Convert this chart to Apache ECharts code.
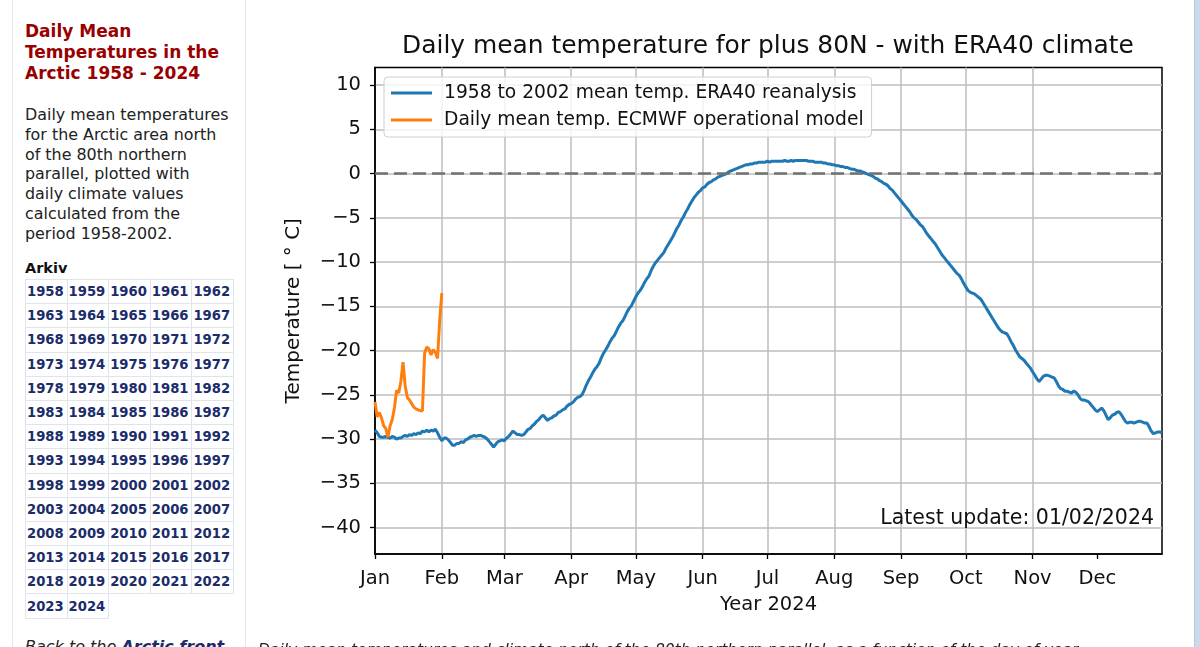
<!DOCTYPE html>
<html>
<head>
<meta charset="utf-8">
<script src="https://cdn.jsdelivr.net/npm/echarts@6/dist/echarts.min.js"></script>
<style>
html,body{margin:0;padding:0;width:1200px;height:647px;overflow:hidden;background:#fff;font-family:"DejaVu Sans",Verdana,sans-serif;}
#side{position:absolute;left:12px;top:0;width:234px;height:647px;border-left:1px solid #e6e6e6;border-right:1px solid #e6e6e6;box-sizing:border-box;z-index:2;overflow:hidden;}
#side h1{position:absolute;left:12px;top:21px;margin:0;font-size:17px;line-height:21px;font-weight:bold;color:#990000;white-space:nowrap;}
#side p.desc{position:absolute;left:12px;top:105px;margin:0;font-size:15.9px;line-height:19.8px;color:#222;white-space:nowrap;}
#side .ark{position:absolute;left:12px;top:260px;font-size:14.5px;font-weight:bold;color:#111;}
#side table{position:absolute;left:12px;top:279px;border-collapse:collapse;}
#side td{border:1px solid #dfe4ee;width:41.6px;height:24.2px;padding:0 0 0 1px;font-size:13.2px;font-weight:bold;color:#1b2c6b;box-sizing:border-box;}
#side .back{position:absolute;left:12px;top:637px;font-size:16px;font-style:italic;color:#222;white-space:nowrap;}
#side .back b{color:#1b2c6b;}
#bottomtext{position:absolute;left:258px;top:641px;font-size:15.5px;font-style:italic;color:#222;white-space:nowrap;z-index:2;}
#rbar{position:absolute;left:1194px;top:0;width:6px;height:647px;background:#cbd9ec;border-left:1px solid #b5c8e2;box-sizing:border-box;z-index:2;}
#chart{position:absolute;left:246px;top:0;width:948px;height:647px;z-index:1;}
</style>
</head>
<body>
<div id="side">
  <h1>Daily Mean<br>Temperatures in the<br>Arctic 1958 - 2024</h1>
  <p class="desc">Daily mean temperatures<br>for the Arctic area north<br>of the 80th northern<br>parallel, plotted with<br>daily climate values<br>calculated from the<br>period 1958-2002.</p>
  <div class="ark">Arkiv</div>
  <table id="years"></table>
  <div class="back">Back to the <b>Arctic front</b></div>
</div>
<div id="bottomtext">Daily mean temperatures and climate north of the 80th northern parallel, as a function of the day of year.</div>
<div id="rbar"></div>
<div id="chart"></div>
<script>
// ---------- data ----------
const archiveYears = [1958,1959,1960,1961,1962,1963,1964,1965,1966,1967,1968,1969,1970,1971,1972,1973,1974,1975,1976,1977,1978,1979,1980,1981,1982,1983,1984,1985,1986,1987,1988,1989,1990,1991,1992,1993,1994,1995,1996,1997,1998,1999,2000,2001,2002,2003,2004,2005,2006,2007,2008,2009,2010,2011,2012,2013,2014,2015,2016,2017,2018,2019,2020,2021,2022,2023,2024];
const monthNames = ['Jan','Feb','Mar','Apr','May','Jun','Jul','Aug','Sep','Oct','Nov','Dec'];
const monthLengths = [31,29,31,30,31,30,31,31,30,31,30,31];
const yTickLabels = [-40,-35,-30,-25,-20,-15,-10,-5,0,5,10];

// ERA40 1958-2002 climatology (day 0 = Jan 1, 366 days)
const climate = [
-29.0,-29.3,-29.7,-29.8,-29.8,-29.7,-29.8,-29.9,-29.7,-29.8,
-30.0,-29.9,-29.9,-29.7,-29.6,-29.7,-29.5,-29.6,-29.4,-29.5,
-29.3,-29.4,-29.1,-29.2,-29.0,-29.2,-29.0,-29.1,-28.9,-29.3,
-29.8,-30.2,-29.9,-29.9,-30.1,-30.4,-30.7,-30.7,-30.5,-30.5,
-30.3,-30.4,-30.1,-30.0,-29.8,-29.7,-29.6,-29.7,-29.6,-29.6,
-29.7,-29.8,-30.0,-30.3,-30.6,-30.9,-30.6,-30.3,-30.2,-30.1,
-30.2,-29.9,-29.7,-29.4,-29.1,-29.3,-29.5,-29.5,-29.6,-29.5,
-29.2,-28.9,-28.8,-28.5,-28.3,-28.0,-27.8,-27.5,-27.3,-27.6,
-27.9,-27.7,-27.6,-27.4,-27.3,-27.0,-26.9,-26.7,-26.6,-26.3,
-26.1,-26.0,-25.8,-25.5,-25.3,-25.2,-25.0,-24.5,-23.9,-23.4,
-23.0,-22.5,-22.1,-21.8,-21.4,-20.8,-20.3,-19.9,-19.5,-19.0,
-18.6,-18.3,-17.8,-17.3,-16.9,-16.6,-16.1,-15.6,-15.2,-14.9,
-14.4,-13.9,-13.5,-13.2,-12.8,-12.3,-11.9,-11.6,-11.0,-10.5,
-10.1,-9.8,-9.5,-9.2,-8.9,-8.4,-8.0,-7.6,-7.2,-6.7,
-6.2,-5.8,-5.3,-4.9,-4.4,-4.0,-3.5,-3.1,-2.7,-2.4,
-2.1,-1.9,-1.6,-1.5,-1.2,-1.0,-0.9,-0.7,-0.6,-0.4,
-0.3,-0.2,-0.1,0.0,0.2,0.3,0.4,0.5,0.6,0.7,
0.8,0.9,1.0,1.0,1.1,1.1,1.2,1.2,1.3,1.3,
1.3,1.3,1.4,1.3,1.4,1.4,1.4,1.4,1.4,1.4,
1.5,1.4,1.4,1.5,1.4,1.5,1.5,1.5,1.5,1.5,
1.5,1.4,1.4,1.4,1.3,1.3,1.3,1.3,1.2,1.2,
1.1,1.1,1.0,1.0,0.9,0.9,0.8,0.8,0.7,0.7,
0.6,0.5,0.5,0.4,0.3,0.3,0.2,0.1,0.0,-0.1,
-0.2,-0.3,-0.5,-0.6,-0.8,-0.9,-1.1,-1.2,-1.4,-1.7,
-1.9,-2.2,-2.5,-2.8,-3.1,-3.4,-3.7,-4.0,-4.3,-4.7,
-5.0,-5.2,-5.5,-5.8,-6.0,-6.4,-6.8,-7.1,-7.4,-7.7,
-8.0,-8.4,-8.8,-9.2,-9.5,-9.8,-10.1,-10.4,-10.7,-11.0,
-11.3,-11.5,-11.9,-12.4,-12.8,-13.2,-13.4,-13.5,-13.6,-13.8,
-14.0,-14.2,-14.6,-15.0,-15.4,-15.8,-16.2,-16.6,-17.0,-17.4,
-17.7,-17.9,-18.0,-18.1,-18.5,-19.0,-19.4,-19.9,-20.3,-20.7,
-20.9,-21.1,-21.4,-21.7,-22.0,-22.4,-22.8,-23.2,-23.5,-23.2,
-22.9,-22.8,-22.8,-22.9,-23.0,-23.1,-23.5,-24.0,-24.3,-24.4,
-24.6,-24.6,-24.7,-24.8,-24.6,-24.7,-25.0,-25.4,-25.6,-25.6,
-25.7,-25.8,-26.1,-26.4,-26.7,-26.9,-26.7,-26.5,-26.8,-27.3,
-27.8,-27.6,-27.3,-27.2,-27.0,-26.9,-27.2,-27.6,-28.0,-28.2,
-28.1,-28.1,-28.2,-28.1,-28.0,-28.0,-28.1,-28.2,-28.2,-28.6,
-29.1,-29.4,-29.3,-29.2,-29.2,-29.3
];

// ECMWF operational model daily mean 2024 (Jan 1 - Feb 1)
const observed = [
-25.8,-27.5,-27.0,-27.6,-28.5,-28.8,-29.8,-28.5,-27.8,-26.5,
-24.5,-24.8,-23.5,-21.3,-24.0,-25.3,-25.6,-26.0,-26.4,-26.6,
-26.7,-26.8,-26.8,-20.3,-19.6,-19.8,-20.5,-19.9,-20.2,-20.9,
-16.6,-13.5
];

const seriesNames = ['1958 to 2002 mean temp. ERA40 reanalysis','Daily mean temp. ECMWF operational model'];
const titleText = 'Daily mean temperature for plus 80N - with ERA40 climate';
const updateText = 'Latest update: 01/02/2024';
const xName = 'Year 2024';
const yName = 'Temperature [ \u00b0 C]';

// ---------- sidebar table ----------
(function(){
  const t = document.getElementById('years');
  let html = '';
  for (let i = 0; i < archiveYears.length; i += 5) {
    html += '<tr>';
    for (let j = i; j < Math.min(i + 5, archiveYears.length); j++) html += '<td>' + archiveYears[j] + '</td>';
    html += '</tr>';
  }
  t.innerHTML = html;
})();

// ---------- categories ----------
const days = [];
const monthStart = {};
let idx = 0;
monthLengths.forEach((len, m) => {
  monthStart[idx] = monthNames[m];
  for (let d = 1; d <= len; d++) { days.push(monthNames[m] + ' ' + d); idx++; }
});
const isMonthStart = (i) => Object.prototype.hasOwnProperty.call(monthStart, i);

const FONT = 'DejaVu Sans';
const chart = echarts.init(document.getElementById('chart'), null, {renderer: 'canvas'});
chart.setOption({
  animation: false,
  backgroundColor: 'transparent',
  textStyle: {fontFamily: FONT},
  title: [
    {text: titleText, left: 522, top: 34, padding: 0, textAlign: 'center',
     textStyle: {fontFamily: FONT, fontSize: 24.9, fontWeight: 'normal', color: '#111'}},
    {text: updateText, right: 40, top: 508, padding: 0,
     textStyle: {fontFamily: FONT, fontSize: 20.5, fontWeight: 'normal', color: '#111'}}
  ],
  legend: {
    left: 138, top: 77, orient: 'vertical', icon: 'rect', itemWidth: 41, itemHeight: 3,
    itemGap: 5, padding: [5, 8, 6, 7],
    backgroundColor: 'rgba(255,255,255,0.8)', borderColor: '#d0d0d0', borderWidth: 1, borderRadius: 4,
    textStyle: {fontFamily: FONT, fontSize: 18.7, color: '#111', lineHeight: 22, padding: [0, 0, 0, 7]},
    data: seriesNames
  },
  grid: {left: 129, right: 32, top: 67.5, bottom: 93, show: true, borderColor: '#000', borderWidth: 1.5, backgroundColor: '#fff', containLabel: false},
  xAxis: {
    type: 'category', data: days, boundaryGap: false,
    name: xName, nameLocation: 'middle', nameGap: 41,
    nameTextStyle: {fontFamily: FONT, fontSize: 19.5, color: '#111'},
    axisLine: {show: true, onZero: false, lineStyle: {color: '#000', width: 1.5}},
    axisTick: {show: true, length: 5, interval: (i) => isMonthStart(i), lineStyle: {color: '#000', width: 1.3}},
    axisLabel: {interval: (i) => isMonthStart(i), formatter: (v, i) => monthStart[i] || '', margin: 15,
      fontFamily: FONT, fontSize: 19.5, color: '#111'},
    splitLine: {show: true, showMinLine: false, showMaxLine: false, interval: (i) => isMonthStart(i), lineStyle: {color: '#bcbcbc', width: 1.5}}
  },
  yAxis: {
    type: 'value', min: -43, max: 12, splitNumber: 11,
    name: yName, nameLocation: 'middle', nameGap: 71,
    nameTextStyle: {fontFamily: FONT, fontSize: 20, color: '#111'},
    axisLine: {show: true, onZero: false, lineStyle: {color: '#000', width: 1.5}},
    axisTick: {show: true, length: 5, lineStyle: {color: '#000', width: 1.3}},
    axisLabel: {margin: 14, fontFamily: FONT, fontSize: 19.5, color: '#111',
      showMinLabel: false, showMaxLabel: false,
      formatter: (v) => yTickLabels.indexOf(v) >= 0 ? String(v).replace('-', '\u2212') : ''},
    splitLine: {show: true, showMinLine: false, showMaxLine: false, lineStyle: {color: '#bcbcbc', width: 1.5}}
  },
  series: [
    {name: seriesNames[0], type: 'line', data: climate, symbol: 'none', showSymbol: false,
     lineStyle: {color: '#1f77b4', width: 3}, itemStyle: {color: '#1f77b4'}, z: 3,
     markLine: {silent: true, symbol: ['none', 'none'], label: {show: false},
       lineStyle: {color: '#707070', type: [13, 6], width: 2.5}, data: [{yAxis: 0}]}},
    {name: seriesNames[1], type: 'line', data: observed, symbol: 'none', showSymbol: false,
     lineStyle: {color: '#ff7f0e', width: 3}, itemStyle: {color: '#ff7f0e'}, z: 4}
  ]
});
</script>
</body>
</html>
